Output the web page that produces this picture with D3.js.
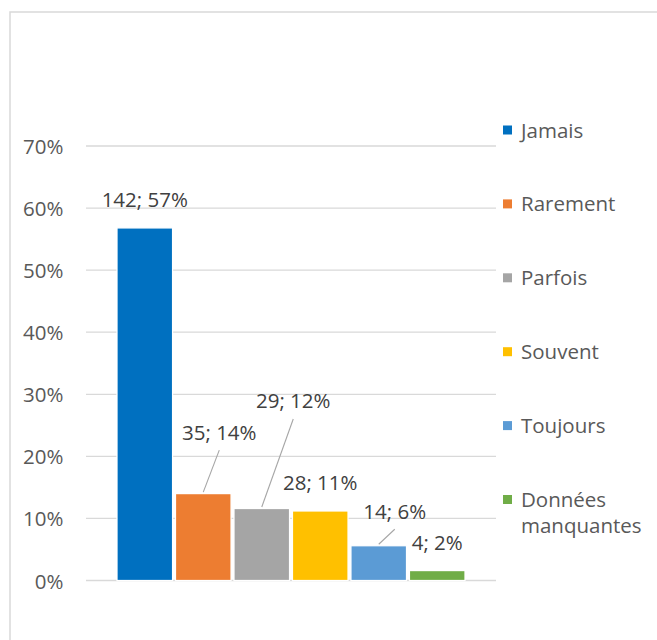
<!DOCTYPE html>
<html>
<head>
<meta charset="utf-8">
<script src="https://cdn.jsdelivr.net/npm/d3@7"></script>
<style>
  html, body { margin: 0; padding: 0; background: #fff; }
  svg { display: block; }
</style>
</head>
<body>
<svg id="chart" width="657" height="640"></svg>
<script>
// ---- data ----
const categories = ["Jamais", "Rarement", "Parfois", "Souvent", "Toujours", "Données manquantes"];
const counts = [142, 35, 29, 28, 14, 4];
const percents = [56.8, 14.0, 11.6, 11.2, 5.6, 1.6];
const yTicks = [0, 10, 20, 30, 40, 50, 60, 70];
const colors = ["#0070C0", "#ED7D31", "#A5A5A5", "#FFC000", "#5B9BD5", "#70AD47"];

// ---- layout ----
const FONT = "'Open Sans', 'Noto Sans', sans-serif";
const FS = 20.5;
const plot = { left: 86, right: 496, top: 146, bottom: 580.5 };
// manual label displacement (px) for labels moved off their default spot
const labelShift = [[0, 0], [16, -33], [31.5, -79], [0, 0], [16, -6], [0, 0]];

const svg = d3.select("#chart");

svg.append("rect")
  .attr("x", 10).attr("y", 12)
  .attr("width", 680).attr("height", 660)
  .attr("fill", "#fff")
  .attr("stroke", "#d9d9d9").attr("stroke-width", 1.5);

const y = d3.scaleLinear().domain([0, 70]).range([plot.bottom, plot.top]);
const x = d3.scaleBand().domain(categories)
  .range([plot.left, plot.right])
  .paddingInner(0.05).paddingOuter(0.53);

// gridlines
svg.append("g").selectAll("line").data(yTicks).join("line")
  .attr("x1", plot.left).attr("x2", plot.right)
  .attr("y1", d => y(d)).attr("y2", d => y(d))
  .attr("stroke", "#d9d9d9").attr("stroke-width", 1.3);

// y axis labels
svg.append("g").selectAll("text").data(yTicks).join("text")
  .attr("x", 63.5).attr("y", d => y(d))
  .attr("text-anchor", "end").attr("dominant-baseline", "central")
  .attr("font-family", FONT).attr("font-size", FS)
  .attr("fill", "#595959")
  .text(d => d + "%");

const rows = categories.map((c, i) => ({ c, i, v: percents[i], n: counts[i] }));

// bars
svg.append("g").selectAll("rect").data(rows).join("rect")
  .attr("x", d => x(d.c))
  .attr("width", x.bandwidth())
  .attr("y", d => y(d.v))
  .attr("height", d => y(0) - y(d.v))
  .attr("fill", d => colors[d.i])
  .attr("stroke", "#fff").attr("stroke-width", 1.25);

// labels + leader lines
const lab = rows.map(d => {
  const cx = x(d.c) + x.bandwidth() / 2;
  const top = y(d.v);
  const [dx, dy] = labelShift[d.i];
  return { ...d, cx, top, lx: cx + dx, ly: top - 21 + dy, moved: dx !== 0 || dy !== 0 };
});

svg.append("g").selectAll("line").data(lab.filter(d => d.moved)).join("line")
  .attr("x1", d => d.lx).attr("y1", d => d.ly + 10.5)
  .attr("x2", d => d.cx).attr("y2", d => d.top - 1.5)
  .attr("stroke", "#a6a6a6").attr("stroke-width", 1.1);

svg.append("g").selectAll("text").data(lab).join("text")
  .attr("x", d => d.lx).attr("y", d => d.ly)
  .attr("text-anchor", "middle")
  .attr("font-family", FONT).attr("font-size", FS)
  .attr("fill", "#404040")
  .text(d => `${d.n}; ${Math.round(d.v)}%`);

// legend
const leg = svg.append("g");
const legTop = 137.5, legStep = 73.9;
rows.forEach(d => {
  const by = legTop + d.i * legStep;
  leg.append("rect")
    .attr("x", 503).attr("y", by - 12)
    .attr("width", 9).attr("height", 9)
    .attr("fill", colors[d.i]);
  const words = d.c.split(" ");
  words.forEach((w, k) => {
    leg.append("text")
      .attr("x", 521).attr("y", by + k * 26)
      .attr("font-family", FONT).attr("font-size", FS)
      .attr("fill", "#595959")
      .text(w);
  });
});
</script>
</body>
</html>
